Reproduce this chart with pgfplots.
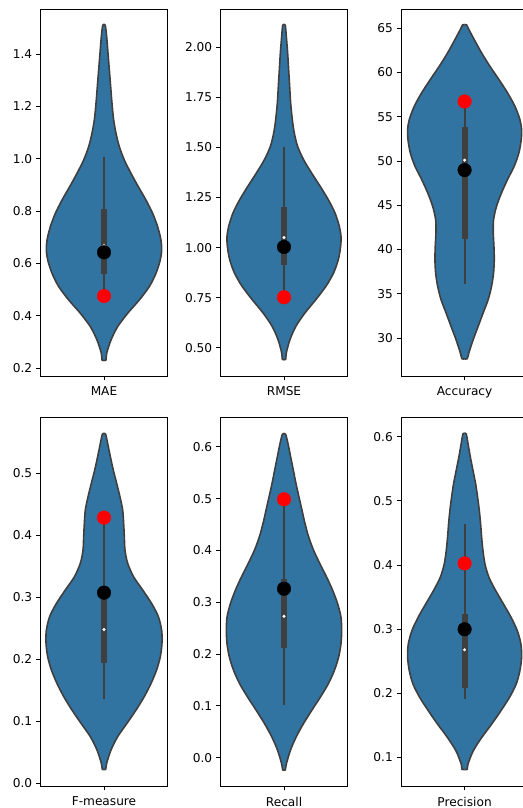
\documentclass[border=0pt]{standalone}
\usepackage{pgfplots}
\pgfplotsset{compat=1.18}
\usepackage{pgfplotstable}
\usepgfplotslibrary{fillbetween}
\usepackage{fontspec}
\setmainfont{DejaVu Sans}
\definecolor{vblue}{HTML}{3274A1}
\definecolor{vgray}{HTML}{3F3F3F}

\pgfplotstableread{
w y
0 0.229
6 0.231
8 0.256
21 0.307
41 0.358
71 0.409
106 0.460
136 0.511
156 0.562
169 0.613
173 0.651
171 0.689
161 0.740
146 0.791
126 0.842
103 0.893
81 0.944
61 0.995
46 1.046
36 1.097
29 1.148
24 1.211
20 1.275
16 1.339
12 1.403
8 1.466
4 1.509
0 1.511
}\maeV

\pgfplotstableread{
w y
0 0.440
5 0.442
7 0.475
18 0.541
36 0.608
63 0.674
96 0.741
126 0.807
149 0.874
163 0.940
170 1.006
171 1.056
166 1.106
153 1.173
133 1.239
109 1.305
83 1.372
59 1.438
41 1.505
31 1.571
25 1.638
20 1.721
17 1.804
14 1.887
11 1.970
7 2.053
4 2.109
0 2.111
}\rmseV

\pgfplotstableread{
w y
0 27.65
8 27.67
13 28.35
26 29.85
41 31.35
56 32.87
71 34.37
81 35.87
87 37.38
89 38.88
88 40.39
86 41.90
87 43.40
96 44.90
111 46.42
129 47.92
149 49.42
163 50.93
170 52.43
171 53.56
166 54.69
151 56.19
129 57.70
103 59.21
76 60.71
51 62.22
29 63.72
13 64.85
6 65.38
0 65.40
}\accV

\pgfplotstableread{
w y
0 0.0220
5 0.0226
8 0.0323
21 0.0537
41 0.0752
69 0.0968
96 0.118
121 0.140
141 0.161
158 0.183
169 0.204
174 0.226
173 0.247
163 0.269
143 0.290
116 0.312
89 0.333
71 0.355
63 0.376
61 0.398
59 0.419
56 0.441
48 0.462
38 0.484
28 0.505
19 0.527
11 0.548
5 0.563
0 0.564
}\fmV

\pgfplotstableread{
w y
0 -0.0245
4 -0.0238
7 -0.0122
19 0.0135
36 0.0392
58 0.0651
83 0.0909
109 0.1166
133 0.1425
151 0.168
164 0.194
171 0.220
173 0.2455
171 0.271
161 0.297
146 0.323
128 0.3485
108 0.374
89 0.400
74 0.426
63 0.452
54 0.4775
45 0.503
36 0.529
28 0.555
20 0.5805
12 0.606
5 0.624
0 0.625
}\recV

\pgfplotstableread{
w y
0 0.0815
8 0.0818
10 0.0897
26 0.1105
51 0.131
81 0.152
109 0.173
135 0.194
155 0.2147
166 0.2355
171 0.256
169 0.277
158 0.298
139 0.319
116 0.340
93 0.3605
73 0.381
61 0.402
55 0.423
51 0.444
48 0.4647
44 0.4855
39 0.506
33 0.527
25 0.548
17 0.569
10 0.590
5 0.6043
0 0.605
}\preV

\pgfplotsset{
  vio/.style={
    scale only axis, width=126.6bp, anchor=south west,
    xmin=-190, xmax=190, xtick={0},
    tick align=outside, major tick length=4.3bp, tick pos=left,
    axis line style={line width=0.95bp},
    every tick/.style={black, line width=0.95bp},
    tick label style={font=\fontsize{12.2}{14}\selectfont},
    /pgf/number format/assume math mode=true,
    scaled y ticks=false,
    yticklabel style={anchor=east, inner sep=0pt, xshift=-4bp},
    xticklabel style={anchor=north, inner sep=0pt, yshift=-6.4bp},
    set layers,
  },
  vside/.style={draw=vgray, line width=1.6bp, smooth},
  whisk/.style={vgray, line width=2bp},
  qbox/.style={vgray, line width=6bp},
  medd/.style={only marks, mark=*, mark size=1.3bp, mark options={draw=white, fill=white}},
  bdot/.style={only marks, mark=*, mark size=6.8bp, mark options={draw=black, fill=black}},
  rdot/.style={only marks, mark=*, mark size=6.8bp, mark options={draw=red, fill=red}},
}

\newcommand{\violin}[1]{%
  \addplot[vside, name path=r] table[x=w, y=y] {#1};
  \addplot[vside, name path=l] table[x expr=-\thisrow{w}, y=y] {#1};
  \addplot[fill=vblue, draw=none] fill between[of=r and l];
}

\begin{document}
\begin{tikzpicture}
% MAE
\begin{axis}[vio, at={(40.7bp,432bp)}, height=367bp,
  ymin=0.1694, ymax=1.572, ytick={0.2,0.4,...,1.41},
  xticklabels={MAE},
  yticklabel style={/pgf/number format/fixed, /pgf/number format/fixed zerofill, /pgf/number format/precision=1}]
\violin{\maeV}
\addplot[whisk] coordinates {(0,0.475) (0,1.005)};
\addplot[qbox] coordinates {(0,0.559) (0,0.806)};
\addplot[medd] coordinates {(0,0.667)};
\addplot[bdot] coordinates {(0,0.642)};
\addplot[rdot] coordinates {(0,0.475)};
\end{axis}
% RMSE
\begin{axis}[vio, at={(220.7bp,432bp)}, height=367bp,
  ymin=0.359, ymax=2.191, ytick={0.5,0.75,1.0,1.25,1.5,1.75,2.0},
  xticklabels={RMSE},
  yticklabel style={/pgf/number format/fixed, /pgf/number format/fixed zerofill, /pgf/number format/precision=2}]
\violin{\rmseV}
\addplot[whisk] coordinates {(0,0.752) (0,1.50)};
\addplot[qbox] coordinates {(0,0.912) (0,1.204)};
\addplot[medd] coordinates {(0,1.05)};
\addplot[bdot] coordinates {(0,1.003)};
\addplot[rdot] coordinates {(0,0.752)};
\end{axis}
% Accuracy
\begin{axis}[vio, at={(401.3bp,432bp)}, height=367bp,
  ymin=25.71, ymax=67.18, ytick={30,35,...,65},
  xticklabels={Accuracy}]
\violin{\accV}
\addplot[whisk] coordinates {(0,36.13) (0,56.73)};
\addplot[qbox] coordinates {(0,41.24) (0,53.8)};
\addplot[medd] coordinates {(0,50.1)};
\addplot[bdot] coordinates {(0,48.98)};
\addplot[rdot] coordinates {(0,56.73)};
\end{axis}
% F-measure
\begin{axis}[vio, at={(40.7bp,22bp)}, height=368.5bp,
  ymin=-0.0043, ymax=0.590, ytick={0,0.1,...,0.51},
  xticklabels={F-measure},
  yticklabel style={/pgf/number format/fixed, /pgf/number format/fixed zerofill, /pgf/number format/precision=1}]
\violin{\fmV}
\addplot[whisk] coordinates {(0,0.1355) (0,0.429)};
\addplot[qbox] coordinates {(0,0.1935) (0,0.3005)};
\addplot[medd] coordinates {(0,0.248)};
\addplot[bdot] coordinates {(0,0.3075)};
\addplot[rdot] coordinates {(0,0.4285)};
\end{axis}
% Recall
\begin{axis}[vio, at={(220.7bp,22bp)}, height=368.5bp,
  ymin=-0.0548, ymax=0.6566, ytick={0,0.1,...,0.61},
  xticklabels={Recall},
  yticklabel style={/pgf/number format/fixed, /pgf/number format/fixed zerofill, /pgf/number format/precision=1}]
\violin{\recV}
\addplot[whisk] coordinates {(0,0.102) (0,0.499)};
\addplot[qbox] coordinates {(0,0.212) (0,0.345)};
\addplot[medd] coordinates {(0,0.273)};
\addplot[bdot] coordinates {(0,0.326)};
\addplot[rdot] coordinates {(0,0.4987)};
\end{axis}
% Precision
\begin{axis}[vio, at={(401.3bp,22bp)}, height=368.5bp,
  ymin=0.0557, ymax=0.630, ytick={0.1,0.2,...,0.61},
  xticklabels={Precision},
  yticklabel style={/pgf/number format/fixed, /pgf/number format/fixed zerofill, /pgf/number format/precision=1}]
\violin{\preV}
\addplot[whisk] coordinates {(0,0.192) (0,0.4635)};
\addplot[qbox] coordinates {(0,0.209) (0,0.324)};
\addplot[medd] coordinates {(0,0.268)};
\addplot[bdot] coordinates {(0,0.30)};
\addplot[rdot] coordinates {(0,0.4026)};
\end{axis}
\pgfresetboundingbox
\path[use as bounding box] (0,0) rectangle (523bp,808bp);
\end{tikzpicture}
\end{document}
